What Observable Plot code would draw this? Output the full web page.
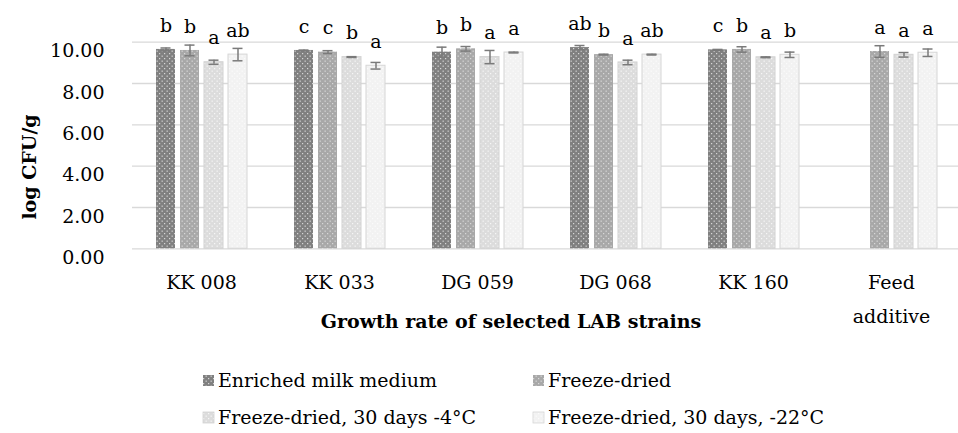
<!DOCTYPE html>
<html><head><meta charset="utf-8">
<script src="https://cdn.jsdelivr.net/npm/d3@7"></script>
<script src="https://cdn.jsdelivr.net/npm/@observablehq/plot@0.6"></script>
<style>
html,body{margin:0;padding:0;background:#fff;overflow:hidden;width:958px;height:433px}
svg{display:block}
</style></head><body><div id="chart"></div><script>
// ---- data ----
const groups = ["KK 008", "KK 033", "DG 059", "DG 068", "KK 160", "Feed additive"];
const series = ["Enriched milk medium", "Freeze-dried", "Freeze-dried, 30 days -4°C", "Freeze-dried, 30 days, -22°C"];
const enrichedMean = [9.65, 9.60, 9.52, 9.74, 9.63, null];
const freezeMean   = [9.60, 9.52, 9.68, 9.40, 9.65, 9.55];
const minus4Mean   = [9.03, 9.28, 9.28, 9.02, 9.27, 9.39];
const minus22Mean  = [9.40, 8.86, 9.50, 9.40, 9.39, 9.49];
const enrichedErr = [0.07, 0.02, 0.24, 0.10, 0.02, null];
const freezeErr   = [0.26, 0.07, 0.11, 0.02, 0.13, 0.28];
const minus4Err   = [0.10, 0.02, 0.32, 0.11, 0.02, 0.11];
const minus22Err  = [0.30, 0.16, 0.02, 0.02, 0.13, 0.18];
const enrichedLetter = ["b", "c", "b", "ab", "c", ""];
const freezeLetter   = ["b", "c", "b", "b", "b", "a"];
const minus4Letter   = ["a", "b", "a", "a", "a", "a"];
const minus22Letter  = ["ab", "a", "a", "ab", "b", "a"];
const yTicks = [0, 2, 4, 6, 8, 10];

// ---- styles ----
const baseColors = ["#808080", "#a8a8a8", "#dcdcdc", "#f2f2f2"];
const dotColors = ["#ffffff", "#f4f4f4", "#ffffff", "#ffffff"];
const dotOpacity = [0.85, 0.8, 0.9, 0.9];
const barStrokes = ["none", "none", "#d2d2d2", "#d6d6d6"];
const font = "'DejaVu Serif', serif";

const means = [enrichedMean, freezeMean, minus4Mean, minus22Mean];
const errs = [enrichedErr, freezeErr, minus4Err, minus22Err];
const letters = [enrichedLetter, freezeLetter, minus4Letter, minus22Letter];
const rows = [];
series.forEach((s, i) => groups.forEach((g, j) => {
  if (means[i][j] != null) rows.push({group: g, series: s, si: i, value: means[i][j], err: errs[i][j], letter: letters[i][j]});
}));

const marks = [Plot.ruleY(yTicks, {stroke: "#d9d9d9", strokeWidth: 1.3})];
series.forEach((s, i) => {
  marks.push(Plot.barY(rows.filter(r => r.si === i), {fx: "group", x: "series", y: "value", fill: `url(#pat${i})`, stroke: barStrokes[i], strokeWidth: 1}));
});
marks.push(
  Plot.ruleX(rows, {fx: "group", x: "series", y1: d => d.value - d.err, y2: d => d.value + d.err, stroke: "#7a7a7a", strokeWidth: 1.5}),
  Plot.tickY(rows, {fx: "group", x: "series", y: d => d.value + d.err, stroke: "#7a7a7a", strokeWidth: 1.5, insetLeft: 4.5, insetRight: 4.5}),
  Plot.tickY(rows, {fx: "group", x: "series", y: d => d.value - d.err, stroke: "#7a7a7a", strokeWidth: 1.5, insetLeft: 4.5, insetRight: 4.5}),
  Plot.text(rows, {fx: "group", x: "series", y: "value", text: "letter", dy: -24, fill: "#000", fontSize: 19}),
  Plot.axisY({ticks: yTicks, tickFormat: d => d.toFixed(2), tickSize: 0, tickPadding: 28, dy: 9, label: null, fill: "#000"}),
  Plot.axisFx({anchor: "bottom", tickSize: 0, tickPadding: 16, label: null, lineHeight: 1.8, fill: "#000",
    tickFormat: d => d === "Feed additive" ? "Feed\nadditive" : d})
);

const chart = Plot.plot({
  width: 961, height: 345,
  marginLeft: 131, marginRight: 0, marginTop: 41.7, marginBottom: 96.7,
  style: {fontFamily: font, fontSize: "19px", color: "#000", background: "#fff", maxWidth: "none", overflow: "visible"},
  fx: {domain: groups, padding: 0, label: null},
  x: {domain: series, paddingInner: 0.21, paddingOuter: 0.87, axis: null},
  y: {domain: [0, 10], axis: null},
  marks
});

// patterns
const svg = d3.select(chart);
const defs = svg.insert("defs", ":first-child");
baseColors.forEach((c, i) => {
  const p = defs.append("pattern").attr("id", `pat${i}`).attr("patternUnits", "userSpaceOnUse")
    .attr("width", 5).attr("height", 5);
  p.append("rect").attr("width", 5).attr("height", 5).attr("fill", c);
  p.append("rect").attr("x", 0.6).attr("y", 0.6).attr("width", 1.1).attr("height", 1.1).attr("fill", dotColors[i]).attr("opacity", dotOpacity[i]);
  p.append("rect").attr("x", 3.1).attr("y", 3.1).attr("width", 1.1).attr("height", 1.1).attr("fill", dotColors[i]).attr("opacity", dotOpacity[i]);
});

// axis titles
svg.append("text").attr("transform", "translate(36,167) rotate(-90)").attr("text-anchor", "middle")
  .attr("font-family", font).attr("font-weight", "bold").attr("font-size", 19).attr("fill", "#000").text("log CFU/g");
svg.append("text").attr("x", 511).attr("y", 328).attr("text-anchor", "middle")
  .attr("font-family", font).attr("font-weight", "bold").attr("font-size", 19).attr("fill", "#000").text("Growth rate of selected LAB strains");

document.getElementById("chart").appendChild(chart);

// legend below
const legendPos = [[203, 42], [533, 42], [203, 79], [533, 79]];
const leg = d3.create("svg").attr("width", 958).attr("height", 88)
  .style("font-family", font).style("font-size", "19px").style("display", "block");
series.forEach((s, i) => {
  const [x, y] = legendPos[i];
  leg.append("rect").attr("x", x).attr("y", y - 12).attr("width", 11).attr("height", 11)
    .attr("fill", `url(#pat${i})`).attr("stroke", barStrokes[i] === "none" ? null : barStrokes[i]).attr("stroke-width", 0.8);
  leg.append("text").attr("x", x + 15).attr("y", y).attr("fill", "#000").text(s);
});
document.getElementById("chart").appendChild(leg.node());
</script></body></html>
